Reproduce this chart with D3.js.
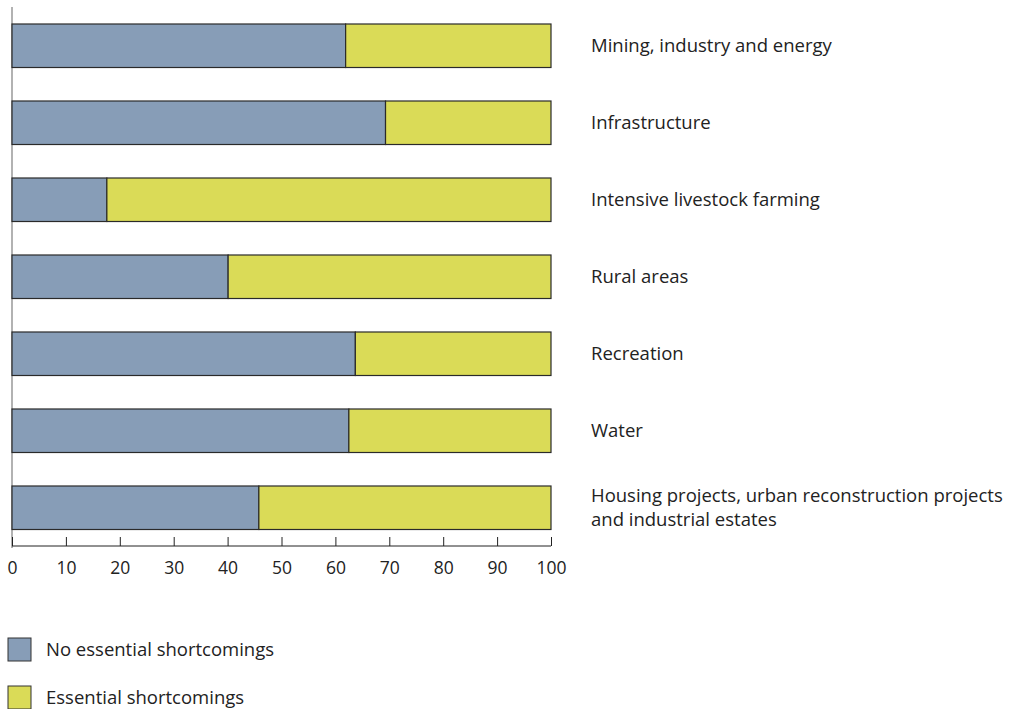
<!DOCTYPE html>
<html><head><meta charset="utf-8">
<script src="https://cdn.jsdelivr.net/npm/d3@7"></script>
<style>body{margin:0;background:#fff}svg{display:block}text{font-family:"Open Sans",sans-serif;fill:#222}</style>
</head><body>
<svg id="c" width="1010" height="709"></svg>
<script>
const categories = ["Mining, industry and energy","Infrastructure","Intensive livestock farming","Rural areas","Recreation","Water","Housing projects, urban reconstruction projects|and industrial estates"];
const noShort = [61.9, 69.3, 17.6, 40.1, 63.7, 62.5, 45.8];
const seriesNames = ["No essential shortcomings","Essential shortcomings"];
const colors = ["#879db7","#dadb57"];
const ticks = [0,10,20,30,40,50,60,70,80,90,100];

const svg = d3.select("#c");
const x = d3.scaleLinear().domain([0,100]).range([12,551]);
const y = d3.scaleBand().domain(categories).range([24,529.5]).paddingInner(0.435).paddingOuter(0);

// left vertical line
svg.append("line").attr("x1",x(0)).attr("x2",x(0)).attr("y1",7).attr("y2",548).attr("stroke","#999").attr("stroke-width",1.5);

const rows = svg.append("g").selectAll("g").data(categories).join("g");
rows.append("rect").attr("x",x(0)).attr("y",d=>y(d)).attr("width",(d,i)=>x(noShort[i])-x(0)).attr("height",y.bandwidth())
  .attr("fill",colors[0]).attr("stroke","#2a2a2a").attr("stroke-width",1.2);
rows.append("rect").attr("x",(d,i)=>x(noShort[i])).attr("y",d=>y(d)).attr("width",(d,i)=>x(100)-x(noShort[i])).attr("height",y.bandwidth())
  .attr("fill",colors[1]).attr("stroke","#2a2a2a").attr("stroke-width",1.2);

// category labels
rows.each(function(d){
  const parts = d.split("|");
  const cy = y(d)+y.bandwidth()/2;
  const t = d3.select(this).append("text").attr("x",591).attr("font-size",18.5);
  parts.forEach((p,j)=>{
    t.append("tspan").attr("x",591).attr("y",cy + (j-(parts.length-1)/2)*24).attr("dy","0.35em").text(p);
  });
});

// x axis
const ax = svg.append("g").attr("transform","translate(0,546)")
  .call(d3.axisBottom(x).tickValues(ticks).tickSize(-9).tickPadding(13).tickFormat(d3.format("d")));
ax.select(".domain").attr("stroke","#222").attr("d","M"+x(0)+",0H"+x(100));
ax.selectAll(".tick line").attr("stroke","#222");
ax.selectAll("text").attr("font-size",17.5).attr("font-family","Open Sans").attr("fill","#222").attr("dy","0.85em");

// legend
const leg = svg.append("g").selectAll("g").data(seriesNames).join("g").attr("transform",(d,i)=>`translate(8,${638+i*48})`);
leg.append("rect").attr("width",23).attr("height",23).attr("fill",(d,i)=>colors[i]).attr("stroke","#333").attr("stroke-width",1);
leg.append("text").attr("x",38).attr("y",12).attr("dy","0.35em").attr("font-size",18.5).text(d=>d);
</script>
</body></html>
